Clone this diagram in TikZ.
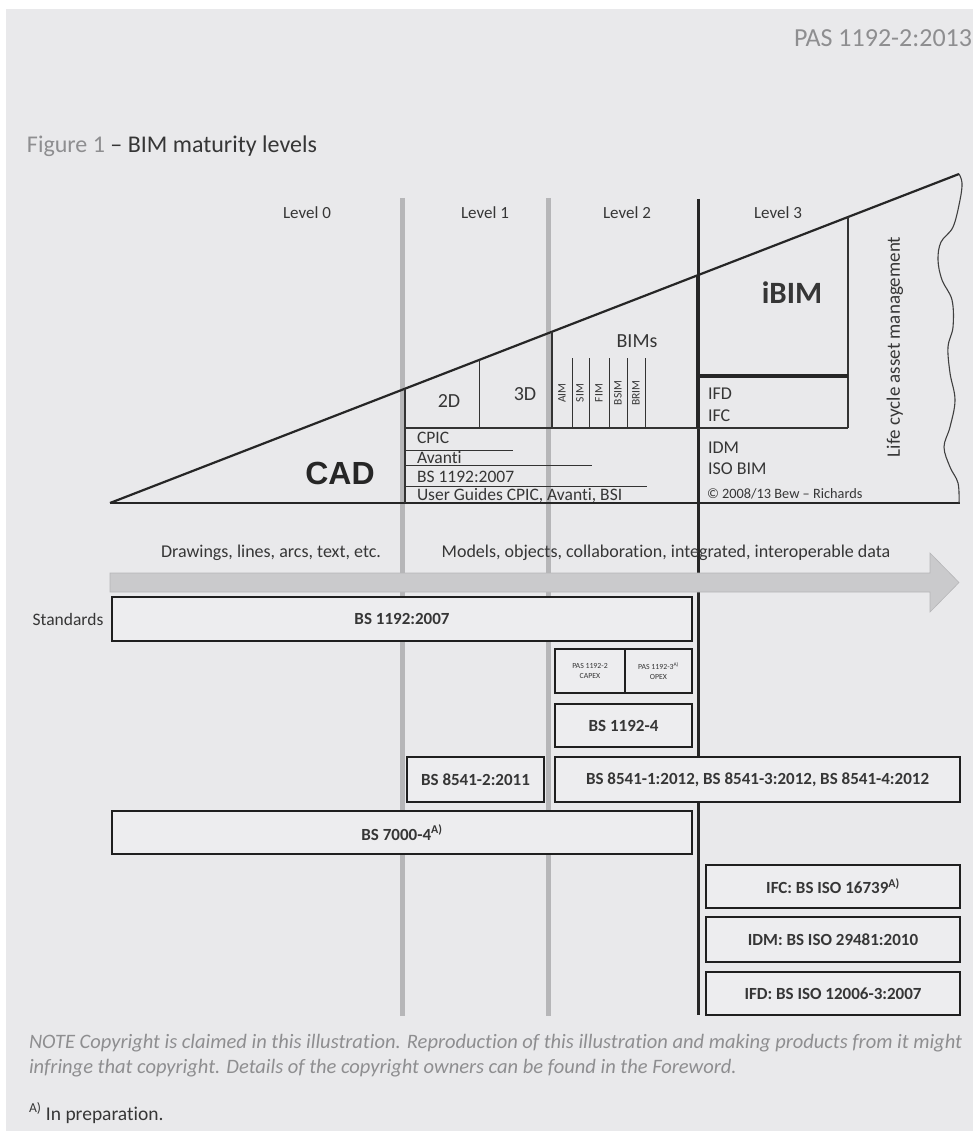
\documentclass[tikz,border=0pt]{standalone}
\usepackage{fontspec}
\setmainfont{Carlito}[Ligatures=NoCommon]
\newfontfamily\cadfont{Liberation Sans}
\usetikzlibrary{calc}
\definecolor{pageGrey}{HTML}{E9E9EB}
\definecolor{boxGrey}{HTML}{EDEDEF}
\definecolor{inkGrey}{HTML}{363636}
\definecolor{softGrey}{HTML}{8E8E90}
\definecolor{railGrey}{HTML}{B6B6B8}
\definecolor{flowGrey}{HTML}{CACACC}

\begin{document}
\begin{tikzpicture}[x=1pt, y=-1pt,
        every node/.style={text=inkGrey, inner sep=0pt, outer sep=0pt},
        lvl/.style={font=\fontsize{17}{19}\selectfont},
        tag/.style={anchor=west, font=\fontsize{18}{20}\selectfont},
        std/.style={draw=black!88, line width=2.6pt, fill=boxGrey, align=center,
                    font=\bfseries\fontsize{17}{19}\selectfont},
        pas/.style={std, line width=2.4pt, font=\fontsize{7.8}{9.5}\selectfont},
        std3/.style={std, minimum width=254pt},
        bim/.style={rotate=90, font=\fontsize{11.5}{12}\selectfont},
        rail/.style={draw=railGrey, line width=5pt},
        wedge/.style={draw=black!85, line width=2.2pt},
        thin/.style={draw=black!80, line width=1pt}]
  % page
  \useasboundingbox (0,0) rectangle (973,1131);
  \fill[white] (0,0) rectangle (973,1131);
  \fill[pageGrey] (6,9) rectangle (973,1131);
  \node[anchor=east, text=softGrey, font=\fontsize{26}{28}\selectfont] (doc) at (972,38) {PAS 1192-2:2013};
  \node[anchor=west, font=\fontsize{24}{26}\selectfont] (title) at (27,146)
       {\textcolor{softGrey}{Figure 1} -- BIM maturity levels};

  % level rails
  \draw[rail] (402,198) -- (402,1016);
  \draw[rail] (548,198) -- (548,1016);
  \draw[draw=black!85, line width=3pt] (698,199) -- (698,1015);
  \node[lvl] (l0) at (307,213) {Level 0};
  \node[lvl] (l1) at (485,213) {Level 1};
  \node[lvl] (l2) at (627,213) {Level 2};
  \node[lvl] (l3) at (778,213) {Level 3};

  % wedge
  \coordinate (tail) at (110,503);
  \coordinate (tip)  at (959,174);
  \coordinate (foot) at (960,503);
  \draw[wedge] (tail) -- (tip);
  \draw[wedge, line width=2.6pt] (tail) -- (foot);
  \draw[draw=black!75, line width=1.1pt] plot[smooth, tension=0.6] coordinates {
      (959,174) (962,183) (960,200) (953,227) (941,242) (938,260) (942,280)
      (952,300) (953,327) (948,347) (950,373) (955,400) (950,427) (944,447)
      (950,467) (958,483) (959,503)};

  % level 1
  \draw[thin, line width=1.6pt] (405,388.5) -- (405,503);
  \draw[thin] (479,359.8) -- (479,428);
  \draw[thin, line width=1.6pt] (405,428) -- (848,428);
  \draw[thin, line width=0.7pt] (405,450) -- (513,450);
  \draw[thin, line width=0.7pt] (405,465) -- (592,465);
  \draw[thin, line width=0.7pt] (405,486) -- (647,486);
  \node[font=\cadfont\bfseries\fontsize{32}{32}\selectfont, text=black!85] (cad) at (340,473) {CAD};
  \node[font=\fontsize{20}{22}\selectfont] (d2) at (449,401) {2D};
  \node[font=\fontsize{20}{22}\selectfont] (d3) at (525,394) {3D};
  \node[tag, font=\fontsize{17.5}{19}\selectfont] (cpic) at (417,438) {CPIC};
  \node[tag, font=\fontsize{17.5}{19}\selectfont] (avanti) at (417,458) {Avanti};
  \node[tag, font=\fontsize{17.5}{19}\selectfont] (bs2007) at (417,477) {BS 1192:2007};
  \node[tag, font=\fontsize{17.5}{19}\selectfont] (guides) at (417,496) {User Guides CPIC, Avanti, BSI};

  % level 2
  \draw[thin, line width=1.6pt] (552,331.5) -- (552,428);
  \foreach \x in {572,589,609,627,645}
    \draw[thin, line width=0.8pt] (\x,358) -- (\x,428);
  \node[font=\fontsize{20}{22}\selectfont] (bims) at (637,341) {BIMs};
  \node[bim] (aim)  at (562,393) {AIM};
  \node[bim] (sim)  at (580,393) {SIM};
  \node[bim] (fim)  at (599,393) {FIM};
  \node[bim] (bsim) at (618,393) {BSIM};
  \node[bim] (brim) at (636,393) {BRIM};

  % level 3
  \draw[draw=black!85, line width=4.5pt] (698,274.9) -- (698,428);
  \draw[thin, line width=1.8pt] (848,216.7) -- (848,428);
  \draw[draw=black!85, line width=3.6pt] (698,376) -- (848,376);
  \node[font=\bfseries\fontsize{31}{32}\selectfont] (ibim) at (792,293) {iBIM};
  \node[tag] (ifd) at (708,394) {IFD};
  \node[tag] (ifc) at (708,416) {IFC};
  \node[tag] (idm) at (708,448) {IDM};
  \node[tag] (isobim) at (708,469) {ISO BIM};
  \node[tag, font=\fontsize{14.3}{16}\selectfont] (copy) at (707,494) {\textcopyright{} 2008/13 Bew -- Richards};
  \node[rotate=90, font=\fontsize{19}{21}\selectfont] (life) at (895,347) {Life cycle asset management};

  % flow arrow
  \node[font=\fontsize{18}{20}\selectfont] (draw2d) at (271,553) {Drawings, lines, arcs, text, etc.};
  \node[font=\fontsize{18}{20}\selectfont] (models) at (666,553) {Models, objects, collaboration, integrated, interoperable data};
  \filldraw[fill=flowGrey, draw=railGrey, line width=0.6pt]
      (110,573) -- (930,573) -- (930,553) -- (959,582.5) -- (930,612) -- (930,592) -- (110,592) -- cycle;

  % standards
  \node[font=\fontsize{17.5}{19}\selectfont] (stds) at (68,619) {Standards};
  \node[std, minimum width=580pt, minimum height=44pt] (bs1192) at (402,619) {BS 1192:2007};
  \node[pas, minimum width=70pt, minimum height=44pt] (pas2) at (590,671) {PAS 1192-2\\CAPEX};
  \node[pas, minimum width=67pt, minimum height=44pt] (pas3) at (658.5,671) {PAS 1192-3\textsuperscript{A)}\\OPEX};
  \node[std, minimum width=137pt, minimum height=43pt] (bs11924) at (623.5,725.5) {BS 1192-4};
  \node[std, minimum width=137pt, minimum height=45pt] (bs85412) at (475.5,779.5) {BS 8541-2:2011};
  \node[std, minimum width=405pt, minimum height=45pt] (bs8541) at (757.5,779.5) {BS 8541-1:2012, BS 8541-3:2012, BS 8541-4:2012};
  \node[std, minimum width=580pt, minimum height=43pt] (bs7000) at (402,832.5) {BS 7000-4\textsuperscript{A)}};
  \node[std3, minimum height=43pt] (ifcstd) at (833,886.5) {IFC: BS ISO 16739\textsuperscript{A)}};
  \node[std3, minimum height=45pt] (idmstd) at (833,939.5) {IDM: BS ISO 29481:2010};
  \node[std3, minimum height=43pt] (ifdstd) at (833,993.5) {IFD: BS ISO 12006-3:2007};

  % notes
  \node[anchor=west, align=left, text=softGrey, font=\itshape\fontsize{20.5}{25}\selectfont] (note) at (29,1055.5)
       {NOTE Copyright is claimed in this illustration. Reproduction of this illustration and making products from it might\\
        infringe that copyright. Details of the copyright owners can be found in the Foreword.};
  \node[anchor=west, font=\fontsize{19.5}{21}\selectfont] (prep) at (29,1113) {\textsuperscript{A)} In preparation.};
\end{tikzpicture}
\end{document}
